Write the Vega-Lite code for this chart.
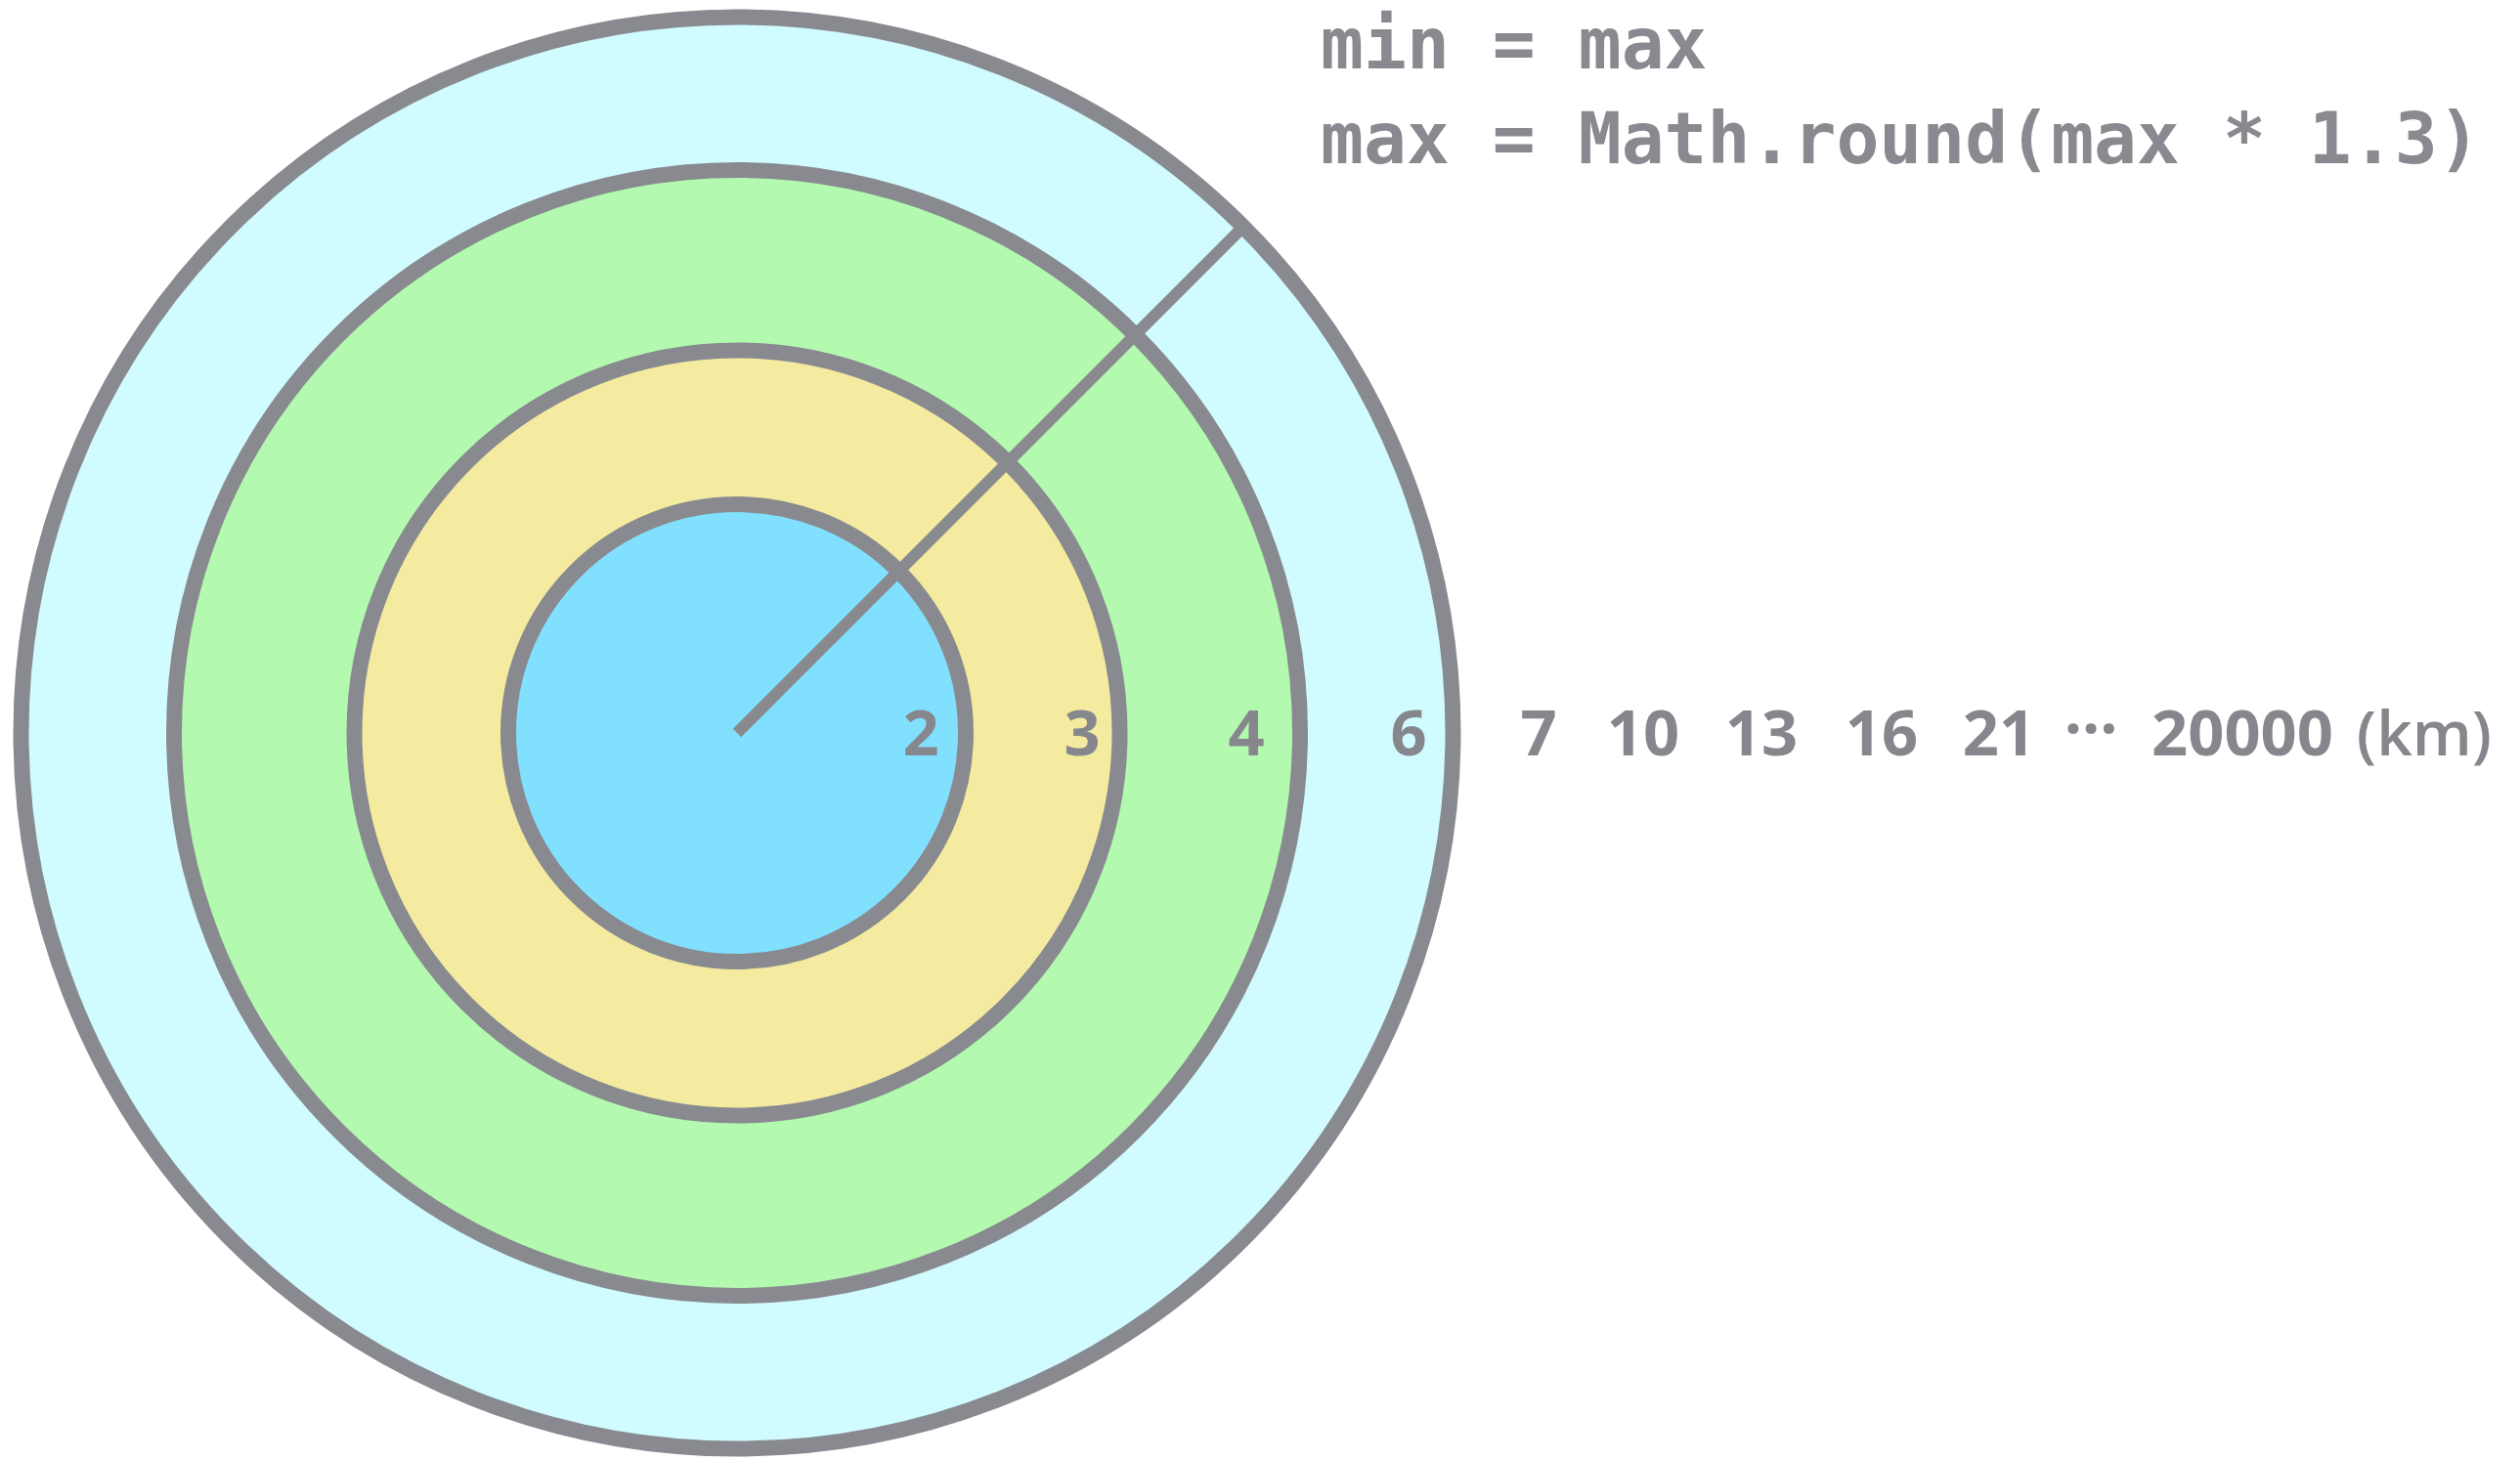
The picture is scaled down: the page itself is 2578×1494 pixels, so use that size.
{
  "$schema": "https://vega.github.io/schema/vega-lite/v6.json",
  "width": 2578,
  "height": 1494,
  "padding": 0,
  "autosize": {"type": "none"},
  "background": "#ffffff",
  "config": {"view": {"stroke": null}},
  "datasets": {
    "rings": [
      {"km": 6, "ring": "6"},
      {"km": 4, "ring": "4"},
      {"km": 3, "ring": "3"},
      {"km": 2, "ring": "2"}
    ],
    "labels": [
      {"km": 2, "label": "2"},
      {"km": 3, "label": "3"},
      {"km": 4, "label": "4"},
      {"km": 6, "label": "6"},
      {"km": 7, "label": "7"},
      {"km": 10, "label": "10"},
      {"km": 13, "label": "13"},
      {"km": 16, "label": "16"},
      {"km": 21, "label": "21"},
      {"km": 20000, "label": "20000"}
    ],
    "radial": [{"km": 6}],
    "code": [{"code": "min = max\nmax = Math.round(max * 1.3)"}]
  },
  "layer": [
    {
      "data": {"name": "rings"},
      "mark": {"type": "arc", "theta": 0, "theta2": 6.2832, "stroke": "#898a8f", "strokeWidth": 16},
      "encoding": {
        "x": {"datum": 0, "type": "quantitative", "axis": null,
              "scale": {"type": "linear", "nice": false, "zero": false,
                        "domain": [0, 2, 3, 4, 6, 7, 10, 13, 16, 21, 20000],
                        "range": [754, 942, 1107, 1275, 1441, 1574, 1681, 1802, 1925, 2045, 2294]}},
        "y": {"datum": 0, "type": "quantitative", "axis": null,
              "scale": {"type": "linear", "nice": false, "zero": false, "domain": [0, 1], "range": [750, 70]}},
        "radius": {"field": "km", "type": "quantitative", "stack": null,
                   "scale": {"type": "linear", "nice": false, "zero": false,
                             "domain": [0, 2, 3, 4, 6], "range": [0, 234, 391.5, 576, 732.5]}},
        "fill": {"field": "ring", "type": "nominal", "legend": null,
                 "scale": {"domain": ["6", "4", "3", "2"], "range": ["#d0fbff", "#b3f9b0", "#f4eaa0", "#82e0ff"]}}
      }
    },
    {
      "data": {"name": "radial"},
      "mark": {"type": "arc", "theta": 0.785398, "theta2": 0.785398, "fill": "transparent", "stroke": "#898a8f", "strokeWidth": 12},
      "encoding": {
        "x": {"datum": 0, "type": "quantitative", "axis": null},
        "y": {"datum": 0, "type": "quantitative", "axis": null},
        "radius": {"field": "km", "type": "quantitative", "stack": null}
      }
    },
    {
      "data": {"name": "labels"},
      "mark": {"type": "text", "font": "Open Sans", "fontSize": 65, "fontWeight": "bold", "color": "#86878c", "align": "center", "baseline": "alphabetic", "dy": 23},
      "encoding": {
        "x": {"field": "km", "type": "quantitative", "axis": null},
        "y": {"datum": 0, "type": "quantitative", "axis": null},
        "text": {"field": "label", "type": "nominal"}
      }
    },
    {
      "data": {"values": [{"after": 21, "sym": "···"}]},
      "mark": {"type": "text", "font": "Open Sans", "fontSize": 64, "fontWeight": "bold", "color": "#86878c", "align": "center", "baseline": "alphabetic", "dx": 94, "dy": 18},
      "encoding": {
        "x": {"field": "after", "type": "quantitative", "axis": null},
        "y": {"datum": 0, "type": "quantitative", "axis": null},
        "text": {"field": "sym", "type": "nominal"}
      }
    },
    {
      "data": {"values": [{"after": 20000, "unit": "(km)"}]},
      "mark": {"type": "text", "font": "Open Sans", "fontSize": 64, "fontWeight": 600, "color": "#86878c", "align": "center", "baseline": "alphabetic", "dx": 186, "dy": 23},
      "encoding": {
        "x": {"field": "after", "type": "quantitative", "axis": null},
        "y": {"datum": 0, "type": "quantitative", "axis": null},
        "text": {"field": "unit", "type": "nominal"}
      }
    },
    {
      "data": {"name": "code"},
      "mark": {"type": "text", "font": "DejaVu Sans Mono", "fontSize": 73, "fontWeight": "bold", "color": "#898a8f", "align": "left", "baseline": "alphabetic", "lineBreak": "\n", "lineHeight": 97, "dx": 76},
      "encoding": {
        "x": {"datum": 4, "type": "quantitative", "axis": null},
        "y": {"datum": 1, "type": "quantitative", "axis": null},
        "text": {"field": "code", "type": "nominal"}
      }
    }
  ]
}
